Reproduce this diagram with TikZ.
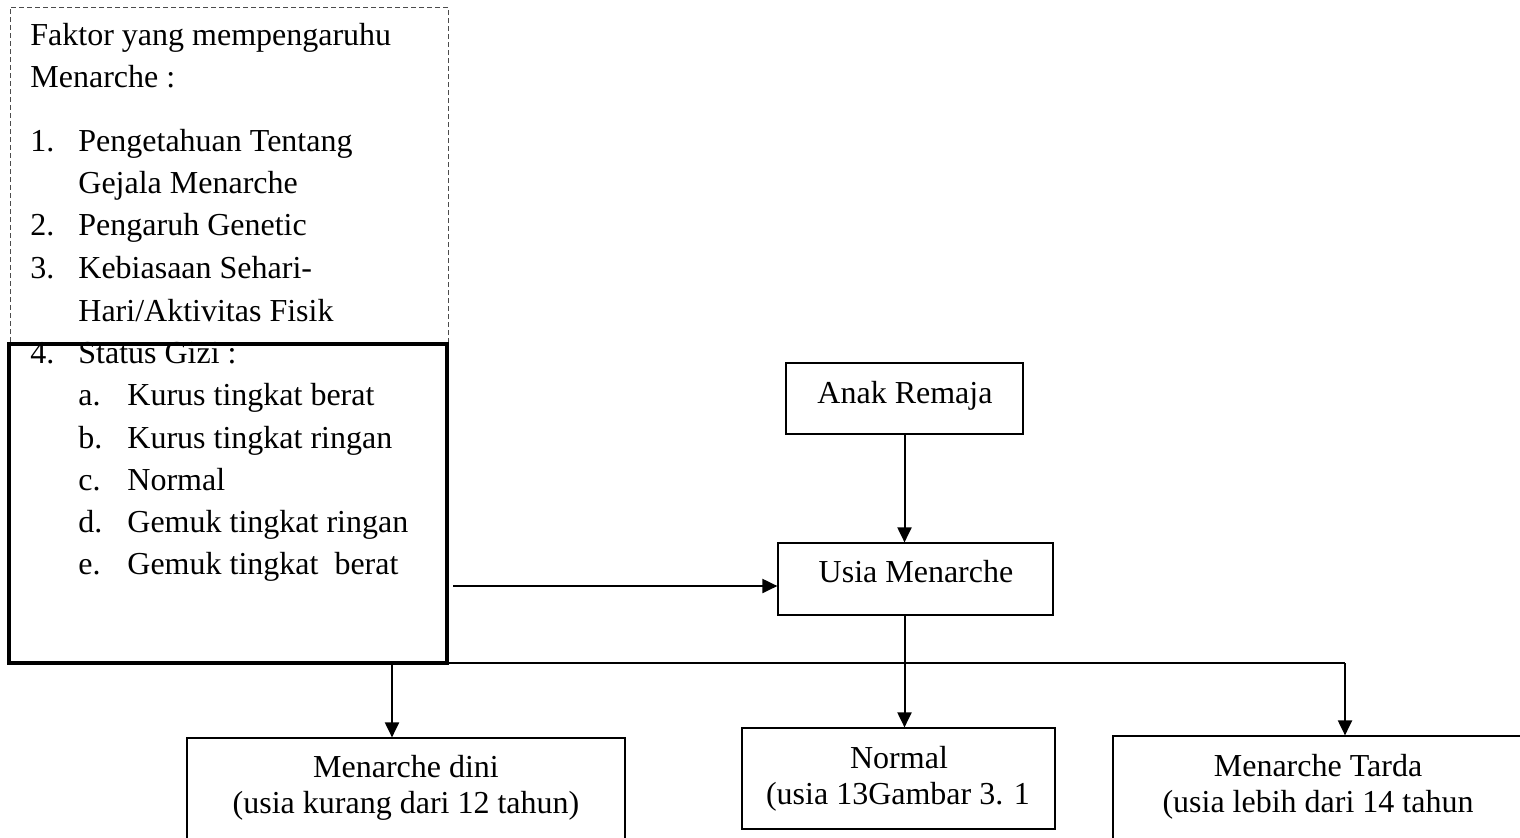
\documentclass[tikz,border=0pt]{standalone}
\usepackage{fontspec}
\setmainfont{Liberation Serif}
\usetikzlibrary{arrows.meta,positioning}

\tikzset{
	txt/.style={inner sep=0pt, anchor=base west, font=\fontsize{16}{18}\selectfont},
	ctxt/.style={txt, anchor=base},
	box/.style={draw, line width=0.6pt, inner sep=0pt},
	conn/.style={line width=1pt},
	arr/.style={conn, -{Triangle[length=7.5pt,width=7pt]}},
}

\begin{document}
\begin{tikzpicture}[x=0.5pt,y=-0.5pt]
	\useasboundingbox (0,0) rectangle (1520,837);
	\clip (0,0) rectangle (1520,837);
	\node [box, draw=black!70, line width=0.5pt, dash pattern=on 2.5pt off 1.5pt, minimum width=219pt, minimum height=169pt] (faktor) at (229,176) {};
	\node [txt] (f1) at (30,45) {Faktor yang mempengaruhu};
	\node [txt] (f2) at (30,87) {Menarche :};
	\node [txt] (n1) at (30,151) {1.};
	\node [txt] (t1) at (78,151) {Pengetahuan Tentang};
	\node [txt] (t1b) at (78,193) {Gejala Menarche};
	\node [txt] (n2) at (30,235) {2.};
	\node [txt] (t2) at (78,235) {Pengaruh Genetic};
	\node [txt] (n3) at (30,278) {3.};
	\node [txt] (t3) at (78,278) {Kebiasaan Sehari-};
	\node [txt] (t3b) at (78,321) {Hari/Aktivitas Fisik};
	\node [txt] (n4) at (30,363) {4.};
	\node [txt] (t4) at (78,363) {Status Gizi :};
	\node [txt] (la) at (78,405) {a.};
	\node [txt] (ta) at (127,405) {Kurus tingkat berat};
	\node [txt] (lb) at (78,448) {b.};
	\node [txt] (tb) at (127,448) {Kurus tingkat ringan};
	\node [txt] (lc) at (78,490) {c.};
	\node [txt] (tc) at (127,490) {Normal};
	\node [txt] (ld) at (78,532) {d.};
	\node [txt] (td) at (127,532) {Gemuk tingkat ringan};
	\node [txt] (le) at (78,574) {e.};
	\node [txt] (te) at (127,574) {Gemuk tingkat\ \ berat};
	\node [box, line width=2pt, minimum width=219pt, minimum height=159.5pt] (gizi) at (228,503.5) {};

	\node [box, minimum width=118.5pt, minimum height=35.5pt] (remaja) at (904.5,398.5) {};
	\node [ctxt] (remajatxt) at (905,403) {Anak Remaja};
	\node [box, minimum width=137.5pt, minimum height=36pt] (usia) at (915.5,579) {};
	\node [ctxt] (usiatxt) at (916,582) {Usia Menarche};

	\node [box, minimum width=219pt, minimum height=75pt] (dini) at (406,813) {};
	\node [ctxt] (dini1) at (406,777) {Menarche dini};
	\node [ctxt] (dini2) at (406,813) {(usia kurang dari 12 tahun)};
	\node [box, minimum width=156.5pt, minimum height=50.5pt] (normal) at (898.5,778.5) {};
	\node [ctxt] (normal1) at (899,768) {Normal};
	\node [ctxt] (normal2) at (898,804) {(usia 13Gambar 3. 1};
	\node [box, minimum width=205pt, minimum height=75pt] (tarda) at (1318,811) {};
	\node [ctxt] (tarda1) at (1318,776) {Menarche Tarda};
	\node [ctxt] (tarda2) at (1318,812) {(usia lebih dari 14 tahun};

	\coordinate (arrowy) at (0,586);
	\coordinate (bus) at (0,663);
	\coordinate (dinitop) at ([xshift=-7pt]dini.north);
	\coordinate (tardatop) at ([xshift=13.5pt]tarda.north);

	\draw [arr] (remaja.south) -- (remaja.south |- usia.north);
	\draw [arr, shorten <=2pt] (gizi.east |- arrowy) -- (usia.west |- arrowy);
	\draw [arr] (remaja.south |- usia.south) -- (remaja.south |- normal.north);
	\draw [conn] (dinitop |- bus) -- (tardatop |- bus);
	\draw [arr] (dinitop |- bus) -- (dinitop);
	\draw [arr] (tardatop |- bus) -- (tardatop);
\end{tikzpicture}
\end{document}
